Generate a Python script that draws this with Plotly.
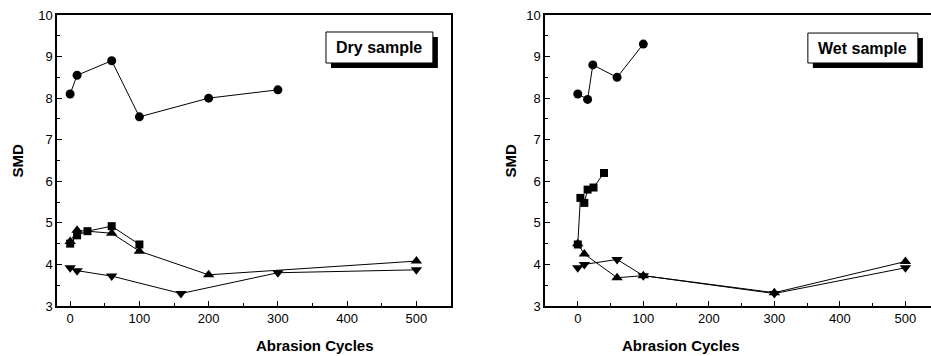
import plotly.graph_objects as go
from plotly.subplots import make_subplots

# ---- Dry sample data ----
dry_circle_x = [0, 10, 60, 100, 200, 300]
dry_circle_y = [8.1, 8.55, 8.9, 7.55, 8.0, 8.2]
dry_square_x = [0, 10, 25, 60, 100]
dry_square_y = [4.5, 4.7, 4.8, 4.92, 4.48]
dry_up_x = [0, 10, 60, 100, 200, 500]
dry_up_y = [4.55, 4.82, 4.75, 4.32, 3.75, 4.08]
dry_down_x = [0, 10, 60, 160, 300, 500]
dry_down_y = [3.92, 3.85, 3.72, 3.3, 3.8, 3.87]

# ---- Wet sample data ----
wet_circle_x = [0, 15, 23, 60, 100]
wet_circle_y = [8.1, 7.97, 8.8, 8.5, 9.3]
wet_square_x = [0, 4, 10, 15, 24, 40]
wet_square_y = [4.48, 5.6, 5.48, 5.8, 5.85, 6.2]
wet_up_x = [0, 10, 60, 100, 300, 500]
wet_up_y = [4.5, 4.25, 3.68, 3.73, 3.32, 4.07]
wet_down_x = [0, 10, 60, 100, 300, 500]
wet_down_y = [3.92, 4.0, 4.12, 3.73, 3.3, 3.92]

panel_labels = ["Dry sample", "Wet sample"]
x_title = "Abrasion Cycles"
y_title = "SMD"

W, H = 931, 356
fig = make_subplots(rows=1, cols=2)

def add_series(xs, ys, symbol, size, col):
    fig.add_trace(go.Scatter(
        x=xs, y=ys, mode="lines+markers",
        line=dict(color="black", width=1),
        marker=dict(symbol=symbol, size=size, color="black"),
        showlegend=False), row=1, col=col)

add_series(dry_circle_x, dry_circle_y, "circle", 9, 1)
add_series(dry_square_x, dry_square_y, "square", 8, 1)
add_series(dry_up_x, dry_up_y, "triangle-up", 10, 1)
add_series(dry_down_x, dry_down_y, "triangle-down", 10, 1)

add_series(wet_circle_x, wet_circle_y, "circle", 9, 2)
add_series(wet_square_x, wet_square_y, "square", 8, 2)
add_series(wet_up_x, wet_up_y, "triangle-up", 10, 2)
add_series(wet_down_x, wet_down_y, "triangle-down", 10, 2)

tickfont = dict(family="Liberation Sans, Arial", size=13, color="black")
common_x = dict(showgrid=False, zeroline=False, showline=True, linecolor="black", linewidth=1.5,
                mirror=True, ticks="inside", ticklen=5, tickcolor="black", dtick=100, tick0=0,
                tickfont=tickfont, minor=dict(dtick=50, ticks="inside", ticklen=3, tickcolor="black"))
common_y = dict(showgrid=False, zeroline=False, showline=True, linecolor="black", linewidth=1.5,
                ticks="inside", ticklen=5, tickcolor="black", dtick=1, tick0=0,
                range=[3, 10], tickfont=tickfont,
                minor=dict(dtick=0.5, ticks="inside", ticklen=3, tickcolor="black"))

fig.update_layout(
    width=W, height=H, margin=dict(l=0, r=0, t=15, b=50),
    plot_bgcolor="white", paper_bgcolor="white",
    xaxis=dict(domain=[57 / W, 451 / W], range=[-19, 550], **common_x),
    xaxis2=dict(domain=[545 / W, 1.0], range=[-50, 539], **common_x),
    yaxis=dict(mirror=True, **common_y),
    yaxis2=dict(mirror=False, **common_y),
)

titlefont = dict(family="Liberation Sans, Arial", size=15, color="black")
ann = []
ann.append(dict(text=f"<b>{x_title}</b>", x=254 / W, y=-0.135, xref="paper", yref="paper",
                showarrow=False, font=titlefont, yanchor="middle"))
ann.append(dict(text=f"<b>{x_title}</b>", x=742 / W, y=-0.135, xref="paper", yref="paper",
                showarrow=False, font=titlefont, yanchor="middle"))
ann.append(dict(text=f"<b>{y_title}</b>", x=17 / W, y=0.5, xref="paper", yref="paper",
                showarrow=False, font=titlefont, textangle=-90, xanchor="center"))
ann.append(dict(text=f"<b>{y_title}</b>", x=510 / W, y=0.5, xref="paper", yref="paper",
                showarrow=False, font=titlefont, textangle=-90, xanchor="center"))

# label boxes (domain fractions) with drop shadow
boxes = [
    ("x domain", "y domain", 0.6827, 0.954, 0.835, 0.9416, 0.0127),
    ("x2 domain", "y2 domain", 0.681, 0.966, 0.835, 0.938, 0.013),
]
boxfont = dict(family="Liberation Sans, Arial", size=16, color="black")
shapes = []
for label, (xr, yr, x0, x1, y0, y1, dx) in zip(panel_labels, boxes):
    dy = 5 / 291
    shapes.append(dict(type="rect", xref=xr, yref=yr, x0=x0 + dx, x1=x1 + dx, y0=y0 - dy, y1=y1 - dy,
                       fillcolor="black", line=dict(width=0), layer="above"))
    shapes.append(dict(type="rect", xref=xr, yref=yr, x0=x0, x1=x1, y0=y0, y1=y1,
                       fillcolor="white", line=dict(color="black", width=1), layer="above"))
    ann.append(dict(text=f"<b>{label}</b>", x=(x0 + x1) / 2, y=(y0 + y1) / 2, xref=xr, yref=yr,
                    xanchor="center", yanchor="middle", showarrow=False, font=boxfont))
fig.update_layout(annotations=ann, shapes=shapes)

fig.write_html("out.html")
